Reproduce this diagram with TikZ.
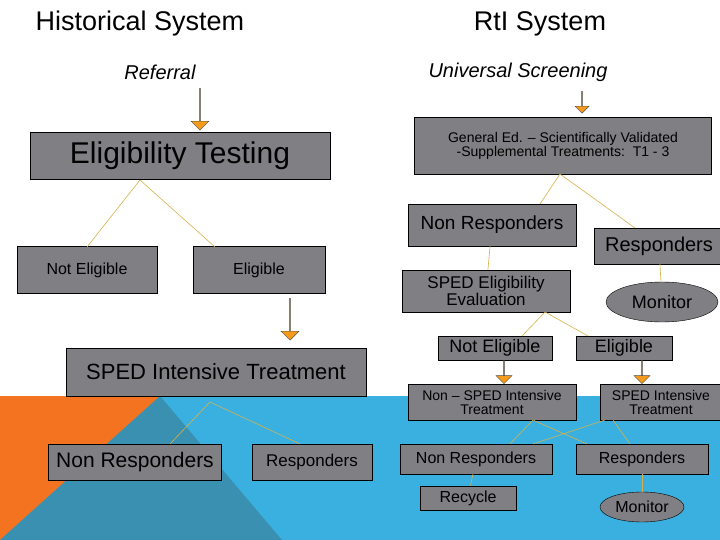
\documentclass[tikz,border=0pt]{standalone}
\usepackage{fontspec}
\setmainfont{Liberation Sans}
\usetikzlibrary{shapes.geometric,shapes.arrows}
\definecolor{boxgray}{HTML}{7F7F84}
\definecolor{skyblue}{HTML}{3AB0E0}
\definecolor{deepteal}{HTML}{3A90B0}
\definecolor{slideorange}{HTML}{F47321}
\definecolor{arroworange}{HTML}{F59A1A}
\definecolor{linkgold}{HTML}{D8B048}
\newcommand{\fs}[1]{\fontsize{#1}{#1}\selectfont}
\begin{document}
\begin{tikzpicture}[x=1pt,y=-1pt,
  box/.style={draw=black,fill=boxgray,inner sep=0pt,text=black,align=center},
  oval/.style={ellipse,draw=black,fill=boxgray,inner sep=0pt,text=black},
  link/.style={draw=linkgold,semithick},
  down/.style={single arrow,shape border rotate=270,draw=black!70,fill=arroworange,
               inner sep=0pt,single arrow head extend=4pt,minimum width=18pt}]
  \tikzstyle{title}=[text=black]

  \useasboundingbox (0,0) rectangle (720,540);
  % background
  \fill[skyblue] (0,396) rectangle (720,540);
  \fill[slideorange] (0,396) -- (160,396) -- (0,540) -- cycle;
  \fill[deepteal] (160,396) -- (282,540) -- (0,540) -- cycle;

  % historical system
  \node[title,font=\fs{27}] (hist) at (140,24) {Historical System};
  \node[title,font=\fs{20}\itshape] (ref) at (160,72) {Referral};
  \node[down,minimum height=42pt] (a1) at (200,109) {};
  \node[box,minimum width=300pt,minimum height=47pt,font=\fs{30}] (et) at (180,156) {Eligibility Testing};
  \node[box,minimum width=140pt,minimum height=47pt,font=\fs{16}] (ne) at (87,270) {Not Eligible};
  \node[box,minimum width=132pt,minimum height=47pt,font=\fs{16}] (el) at (259,270) {Eligible};
  \node[down,minimum height=42pt] (a2) at (290,319) {};
  \node[box,minimum width=300pt,minimum height=48pt,font=\fs{22}] (sit) at (216,372) {SPED Intensive Treatment};
  \node[box,minimum width=173pt,minimum height=36pt,font=\fs{21}] (nr) at (135,462) {Non Responders};
  \node[box,minimum width=120pt,minimum height=36pt,font=\fs{17}] (rs) at (312,462) {Responders};

  \coordinate (et-b) at (140,180);
  \coordinate (sit-b) at (210,402);
  \draw[link] (et-b) -- (87,247) (et-b) -- (215,247);
  \draw[link] (sit-b) -- (170,444) (sit-b) -- (300,444);

  % rti system
  \node[title,font=\fs{27}] (rti) at (540,24) {RtI System};
  \node[title,font=\fs{20}\itshape] (us) at (518,72) {Universal Screening};
  \node[down,minimum height=22pt,minimum width=14pt,single arrow head extend=3pt] (a3) at (582,102) {};
  \node[box,minimum width=297pt,minimum height=57pt,font=\fs{14}] (ge) at (563,146)
    {General Ed. -- Scientifically Validated\\-Supplemental Treatments:\ \ T1 - 3};
  \node[box,minimum width=168pt,minimum height=42pt,font=\fs{19}] (nr2) at (492,225) {Non Responders};
  \node[box,minimum width=130pt,minimum height=36pt,font=\fs{20}] (rs2) at (659,246) {Responders};
  \node[box,minimum width=168pt,minimum height=42pt,font=\fs{17}] (se) at (486,291) {SPED Eligibility\\Evaluation};
  \node[oval,minimum width=112pt,minimum height=40pt,font=\fs{18}] (mo) at (662,302) {Monitor};
  \node[box,minimum width=114pt,minimum height=24pt,font=\fs{18}] (ne2) at (495,348) {Not Eligible};
  \node[box,minimum width=96pt,minimum height=24pt,font=\fs{18}] (el2) at (624,348) {Eligible};
  \node[down,minimum height=23pt,minimum width=16pt] (a4) at (504,372) {};
  \node[down,minimum height=23pt,minimum width=16pt] (a5) at (642,372) {};
  \node[box,minimum width=168pt,minimum height=36pt,font=\fs{14}] (nst) at (492,402) {Non -- SPED Intensive\\Treatment};
  \node[box,minimum width=122pt,minimum height=36pt,font=\fs{14}] (st) at (661,402) {SPED Intensive\\Treatment};
  \node[box,minimum width=152pt,minimum height=30pt,font=\fs{16}] (nr3) at (476,459) {Non Responders};
  \node[box,minimum width=132pt,minimum height=30pt,font=\fs{16}] (rs3) at (642,459) {Responders};
  \node[box,minimum width=96pt,minimum height=24pt,font=\fs{16}] (rc) at (468,498) {Recycle};
  \node[oval,minimum width=84pt,minimum height=30pt,font=\fs{16}] (mo2) at (642,507) {Monitor};

  \coordinate (ge-b) at (560,174);
  \coordinate (se-b) at (545,312);
  \coordinate (nst-b) at (533,420);
  \draw[link] (ge-b) -- (540,204) (ge-b) -- (635,228);
  \draw[link] (nr2) -- (se);
  \draw[link] (rs2) -- (mo);
  \draw[link] (se-b) -- (522,336) (se-b) -- (588,336);
  \draw[link] (nst-b) -- (510,444) (nst-b) -- (587,444)
              (605,420) -- (533,444) (613,420) -- (630,444);
  \draw[link] (nr3) -- (rc);
  \draw[link] (rs3) -- (mo2);
\end{tikzpicture}
\end{document}
